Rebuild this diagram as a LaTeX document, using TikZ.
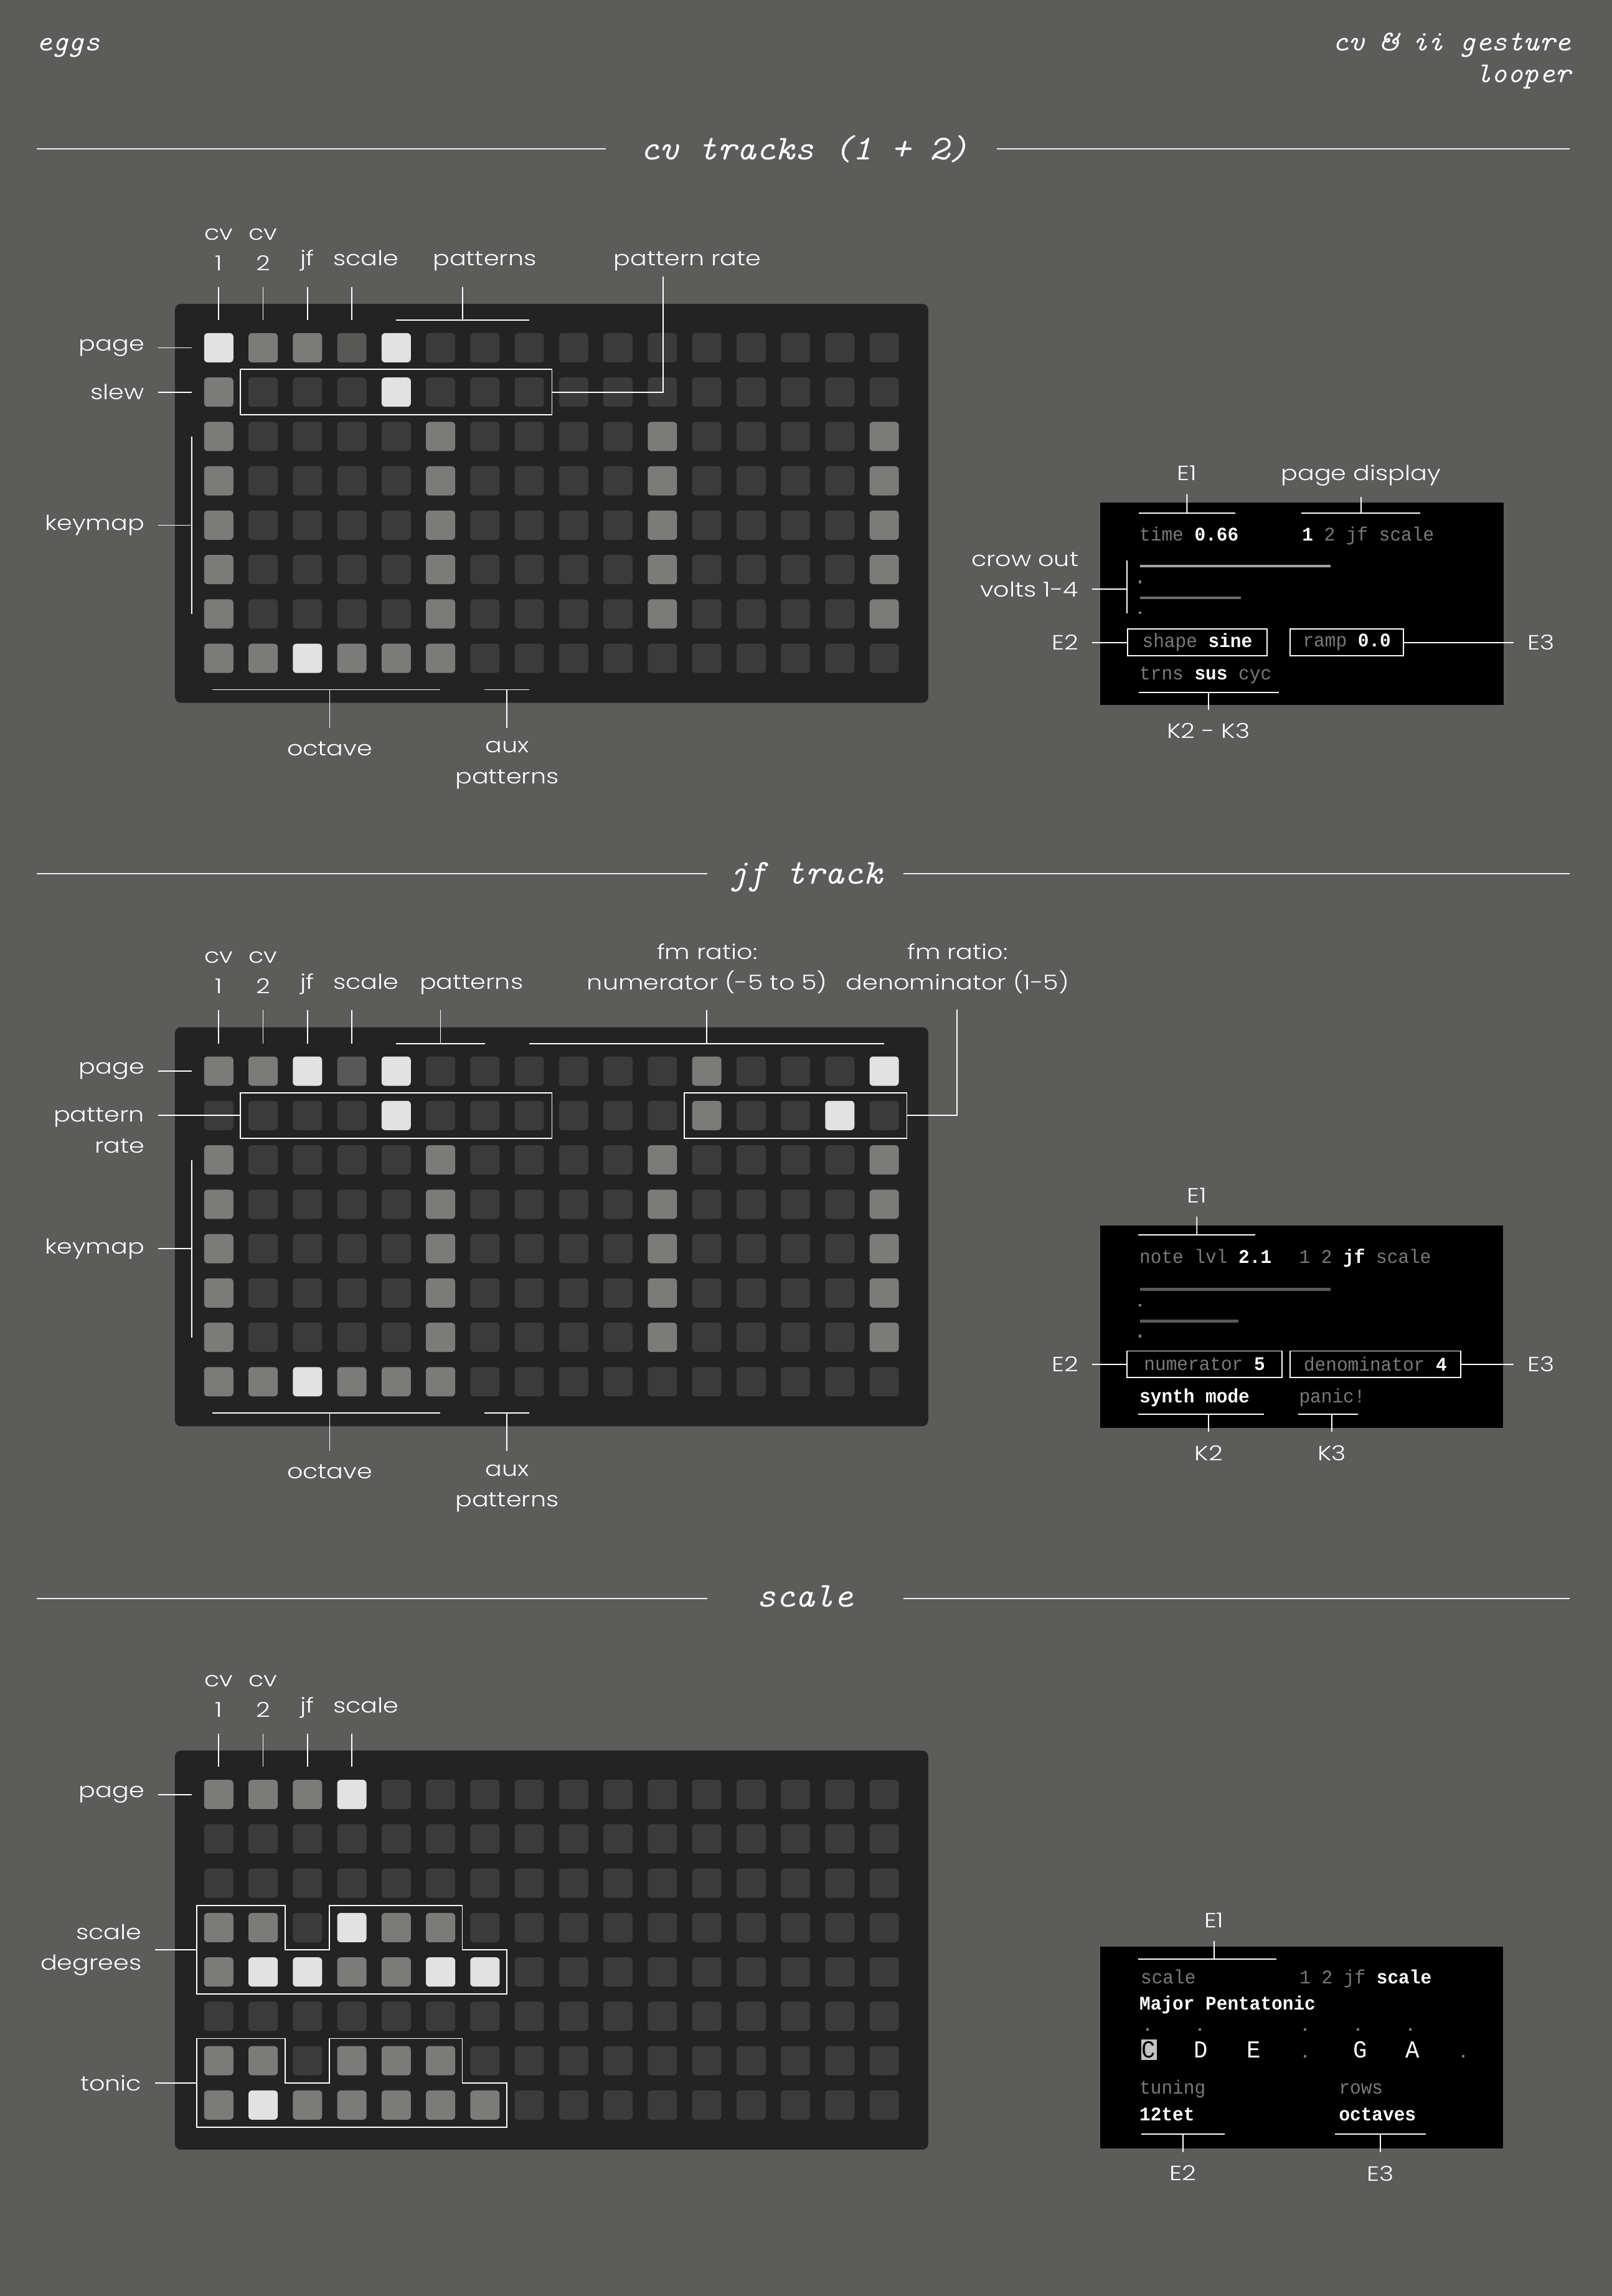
\documentclass[tikz,border=0pt]{standalone}
\usepackage{fontspec}
\IfFontExistsTF{Poppins Light}
  {\setmainfont{Poppins Light}[FakeStretch=1.2]}
  {\setmainfont{Poppins}[FakeStretch=1.2]}
\newfontfamily\headfont{lmmono10-italic.otf}[FakeStretch=1.05]
\newfontfamily\screenfont{Liberation Mono}[FakeStretch=0.95]
\usepackage{tikz}
\usetikzlibrary{positioning}
\usetikzlibrary{fit,calc}
\definecolor{bgcol}{RGB}{92,93,91}
\definecolor{panelcol}{RGB}{35,35,35}
\definecolor{keydark}{RGB}{58,59,58}
\definecolor{keydim}{RGB}{88,88,86}
\definecolor{keymid}{RGB}{123,123,121}
\definecolor{keylit}{RGB}{225,226,225}
\definecolor{scrgray}{RGB}{122,122,122}
\definecolor{barhi}{RGB}{165,165,165}
\definecolor{barmid}{RGB}{110,110,110}
\definecolor{barlo}{RGB}{90,90,90}
\definecolor{hlgray}{RGB}{195,195,195}

\begin{document}
\begin{tikzpicture}[x=0.02cm,y=-0.02cm,
  wire/.style={draw=white,line width=0.45pt},
  stem/.style={wire,shorten >=0.12cm},
  secrule/.style={draw=white!90!bgcol,line width=0.45pt},
  btn/.style={rectangle,rounded corners=0.05cm,minimum size=0.4cm,inner sep=0pt},
  btnd/.style={btn,fill=keydark},
  btns/.style={btn,fill=keydim},
  btnm/.style={btn,fill=keymid},
  btnb/.style={btn,fill=keylit},
  lab/.style={text=white,font=\fontsize{8}{11.9}\selectfont,inner xsep=0.18cm,inner ysep=0.06cm},
  head/.style={text=white,font=\headfont\fontsize{11.2}{12}\selectfont,inner sep=0pt},
  sectitle/.style={text=white,font=\headfont\fontsize{13.6}{15}\selectfont,inner sep=0pt,anchor=base},
  selbox/.style={draw=white,line width=0.45pt,inner sep=0.103cm},
  scrn/.style={fill=black,minimum width=5.51cm,minimum height=2.76cm,inner sep=0pt},
  scr/.style={text=scrgray,font=\screenfont\fontsize{7.5}{9}\selectfont,inner sep=0pt,anchor=base west},
  scrbox/.style={draw=white,line width=0.45pt,fill=black,minimum height=0.36cm,inner sep=0pt,
    anchor=west,text=scrgray,font=\screenfont\fontsize{7.5}{9}\selectfont},
  note/.style={text=white,font=\screenfont\fontsize{9.5}{10}\selectfont,inner sep=0pt,anchor=base}]

% page
\fill[bgcol] (0,0) rectangle (1101,1568);
\useasboundingbox (0,0) rectangle (1101,1568);

% header
\node[head,anchor=base west] (eggs) at (24.6,34.7) {eggs};
\node[head,anchor=base east] (tool) at (1073.5,34.7) {cv \& ii gesture};
\node[head,anchor=base east] (tool2) at (1073.5,56.3) {looper};

% section titles
\node[sectitle] (t-cv) at (549.5,109) {cv tracks (1 + 2)};
\node[sectitle] (t-jf) at (550,603.5) {jf track};
\node[sectitle] (t-sc) at (550,1097.5) {scale};
\foreach \s/\y/\a/\b in {cv/101.5/414/681,jf/596.5/483/617,sc/1091.5/483/617} {
  \coordinate (\s-r1) at (25,\y);
  \coordinate (\s-r2) at (\a,\y);
  \coordinate (\s-r3) at (\b,\y);
  \coordinate (\s-r4) at (1072,\y);
  \draw[secrule] (\s-r1) -- (\s-r2);
  \draw[secrule] (\s-r3) -- (\s-r4);
}

% grid panels
\fill[panelcol,rounded corners=0.08cm] (119.5,207.5) rectangle (634,480);
\fill[panelcol,rounded corners=0.08cm] (119.5,701.5) rectangle (634,974);
\fill[panelcol,rounded corners=0.08cm] (119.5,1195.5) rectangle (634,1468);

% cv tracks grid
\foreach \row [count=\ri from 0] in {
  {b,m,m,s,b,d,d,d,d,d,d,d,d,d,d,d},
  {m,d,d,d,b,d,d,d,d,d,d,d,d,d,d,d},
  {m,d,d,d,d,m,d,d,d,d,m,d,d,d,d,m},
  {m,d,d,d,d,m,d,d,d,d,m,d,d,d,d,m},
  {m,d,d,d,d,m,d,d,d,d,m,d,d,d,d,m},
  {m,d,d,d,d,m,d,d,d,d,m,d,d,d,d,m},
  {m,d,d,d,d,m,d,d,d,d,m,d,d,d,d,m},
  {m,m,b,m,m,m,d,d,d,d,d,d,d,d,d,d}} {
  \foreach \k [count=\ci from 0] in \row {
    \node[btn\k] (cv-\ri-\ci) at (149.4+30.3*\ci,237.5+30.3*\ri) {};
  }
}

% jf track grid
\foreach \row [count=\ri from 0] in {
  {m,m,b,s,b,d,d,d,d,d,d,m,d,d,d,b},
  {d,d,d,d,b,d,d,d,d,d,d,m,d,d,b,d},
  {m,d,d,d,d,m,d,d,d,d,m,d,d,d,d,m},
  {m,d,d,d,d,m,d,d,d,d,m,d,d,d,d,m},
  {m,d,d,d,d,m,d,d,d,d,m,d,d,d,d,m},
  {m,d,d,d,d,m,d,d,d,d,m,d,d,d,d,m},
  {m,d,d,d,d,m,d,d,d,d,m,d,d,d,d,m},
  {m,m,b,m,m,m,d,d,d,d,d,d,d,d,d,d}} {
  \foreach \k [count=\ci from 0] in \row {
    \node[btn\k] (jf-\ri-\ci) at (149.4+30.3*\ci,731.5+30.3*\ri) {};
  }
}

% scale grid
\foreach \row [count=\ri from 0] in {
  {m,m,m,b,d,d,d,d,d,d,d,d,d,d,d,d},
  {d,d,d,d,d,d,d,d,d,d,d,d,d,d,d,d},
  {d,d,d,d,d,d,d,d,d,d,d,d,d,d,d,d},
  {m,m,d,b,m,m,d,d,d,d,d,d,d,d,d,d},
  {m,b,b,m,m,b,b,d,d,d,d,d,d,d,d,d},
  {d,d,d,d,d,d,d,d,d,d,d,d,d,d,d,d},
  {m,m,d,m,m,m,d,d,d,d,d,d,d,d,d,d},
  {m,b,m,m,m,m,m,d,d,d,d,d,d,d,d,d}} {
  \foreach \k [count=\ci from 0] in \row {
    \node[btn\k] (sc-\ri-\ci) at (149.4+30.3*\ci,1225.5+30.3*\ri) {};
  }
}

% labels shared by the three grids
\foreach \g/\dy in {cv/0,jf/494,sc/988} {
  \node[lab,anchor=east] (\g-lpage) at (108,237.5+\dy) {page};
  \draw[wire] (\g-lpage) -- ([xshift=-0.16cm]\g-0-0.west);
  \node[lab,anchor=south,align=center] (\g-lcv1) at (149.4,188+\dy) {cv\\1};
  \node[lab,anchor=south,align=center] (\g-lcv2) at (179.7,188+\dy) {cv\\2};
  \node[lab,anchor=base] (\g-ljf) at (210,181.5+\dy) {jf};
  \node[lab,anchor=base] (\g-lscale) at (250,181.5+\dy) {scale};
  \coordinate (\g-tt) at (0,196+\dy);
  \foreach \col in {0,...,3}
    \draw[wire,shorten <=0.17cm] (\g-0-\col.north) -- (\g-0-\col.north |- \g-tt);
}

% keymap, octave and aux (cv + jf)
\foreach \g/\dy in {cv/0,jf/494} {
  \node[lab,anchor=east] (\g-lkey) at (108,358.7+\dy) {keymap};
  \coordinate (\g-kt) at ([xshift=-0.16cm]\g-2-0.west);
  \coordinate (\g-kb) at ([xshift=-0.16cm]\g-6-0.west);
  \draw[wire] (\g-kt) -- (\g-kb);
  \draw[wire] (\g-lkey) -- (\g-lkey -| \g-kt);
  \coordinate (\g-oa) at (145,471+\dy);
  \coordinate (\g-ob) at (300.7,471+\dy);
  \coordinate (\g-om) at (225.2,471+\dy);
  \draw[wire] (\g-oa) -- (\g-ob);
  \node[lab,anchor=north] (\g-loct) at (225.2,503+\dy) {octave};
  \draw[stem] (\g-om) -- (\g-loct);
  \coordinate (\g-aa) at (331,471+\dy);
  \coordinate (\g-ab) at (361.5,471+\dy);
  \coordinate (\g-am) at (346.3,471+\dy);
  \draw[wire] (\g-aa) -- (\g-ab);
  \node[lab,anchor=north,align=center] (\g-laux) at (346.3,503+\dy) {aux\\patterns};
  \draw[stem] (\g-am) -- (\g-laux);
}

% cv tracks: slew, patterns, pattern rate
\node[lab,anchor=east] (cv-lslew) at (108,267.8) {slew};
\draw[wire] (cv-lslew) -- ([xshift=-0.16cm]cv-1-0.west);
\node[lab,anchor=base] (cv-lpat) at (331,181.5) {patterns};
\draw[wire] ([yshift=0.17cm]cv-0-4.north) -- ([yshift=0.17cm]cv-0-7.north);
\coordinate (cv-pm) at ($(cv-0-4.north)!.5!(cv-0-7.north)$);
\draw[wire,shorten <=0.17cm] (cv-pm) -- (cv-pm |- cv-tt);
\node[selbox,fit=(cv-1-1)(cv-1-7)] (cv-rbox) {};
\node[lab,anchor=base] (cv-lrate) at (469.5,181.5) {pattern rate};
\coordinate (cv-rc) at (453,189);
\draw[wire] (cv-rbox.east) -| (cv-rc);

% jf track: pattern rate, patterns, fm ratio
\node[selbox,fit=(jf-1-1)(jf-1-7)] (jf-rbox) {};
\node[selbox,fit=(jf-1-11)(jf-1-15)] (jf-dbox) {};
\node[lab,anchor=east,align=right] (jf-lrate) at (108,772) {pattern\\rate};
\draw[wire] (jf-rbox.west) -- (jf-rbox.west -| jf-lrate.east);
\node[lab,anchor=base] (jf-lpat) at (322,675.5) {patterns};
\draw[wire] ([yshift=0.17cm]jf-0-4.north) -- ([yshift=0.17cm]jf-0-6.north);
\draw[wire,shorten <=0.17cm] (jf-0-5.north) -- (jf-0-5.north |- jf-tt);
\node[lab,anchor=south,align=center] (jf-lnum) at (483,682) {fm ratio:\\numerator (-5 to 5)};
\draw[wire] ([yshift=0.17cm]jf-0-7.north) -- ([yshift=0.17cm]jf-0-15.north);
\coordinate (jf-nm) at ($(jf-0-7.north)!.5!(jf-0-15.north)$);
\draw[wire,shorten <=0.17cm] (jf-nm) -- (jf-nm |- jf-tt);
\node[lab,anchor=south,align=center] (jf-lden) at (654,682) {fm ratio:\\denominator (1-5)};
\coordinate (jf-dc) at (653.8,689.5);
\draw[wire] (jf-dbox.east) -| (jf-dc);

% scale: degrees and tonic outlines
\draw[wire] (134.25,1301.25) -- (194.85,1301.25) -- (194.85,1331.55) -- (225.15,1331.55)
  -- (225.15,1301.25) -- (315.75,1301.25) -- (315.75,1331.55) -- (346.05,1331.55)
  -- (346.05,1361.85) -- (134.25,1361.85) -- cycle;
\draw[wire] (134.25,1392.15) -- (194.85,1392.15) -- (194.85,1422.45) -- (225.15,1422.45)
  -- (225.15,1392.15) -- (315.75,1392.15) -- (315.75,1422.45) -- (346.05,1422.45)
  -- (346.05,1452.75) -- (134.25,1452.75) -- cycle;
\node[lab,anchor=east,align=right] (sc-ldeg) at (106,1331.55) {scale\\degrees};
\coordinate (sc-dl) at (134.25,1331.55);
\draw[wire] (sc-ldeg) -- (sc-dl);
\node[lab,anchor=east] (sc-lton) at (106,1422.45) {tonic};
\coordinate (sc-tl) at (134.25,1422.45);
\draw[wire] (sc-lton) -- (sc-tl);

% ---- screen: cv tracks
\node[scrn] (cv-scr) at (889.25,412.25) {};
\node[lab,anchor=base] (cv-le1) at (810.7,328.1) {E1};
\coordinate (cv-e1a) at (777.7,350.3);
\coordinate (cv-e1b) at (843.8,350.3);
\draw[wire] (cv-e1a) -- (cv-e1b);
\draw[stem] ($(cv-e1a)!.5!(cv-e1b)$) -- (cv-le1);
\node[lab,anchor=base] (cv-lpd) at (929.5,328.1) {page display};
\coordinate (cv-pda) at (889,350.3);
\coordinate (cv-pdb) at (970,350.3);
\draw[wire] (cv-pda) -- (cv-pdb);
\draw[wire,shorten >=0.08cm] ($(cv-pda)!.5!(cv-pdb)$) -- (cv-lpd);
\node[scr] (cv-time) at (778,369.2) {time \textcolor{white}{\bfseries 0.66}};
\node[scr] (cv-pages) at (889,369.2) {\textcolor{white}{\bfseries 1} 2 jf scale};
\fill[barhi] (778.5,385.6) rectangle (909,387.6);
\fill[scrgray] (778,396.5) rectangle (779.6,398.3);
\fill[barmid] (778.5,407.2) rectangle (847.5,409.2);
\fill[scrgray] (778,417.5) rectangle (779.6,419.3);
\node[lab,anchor=east,align=right] (cv-lcrow) at (746,392.5) {crow out\\volts 1-4};
\coordinate (cv-ct) at (769.6,382.6);
\coordinate (cv-cb) at (769.6,418.7);
\coordinate (cv-cm) at (769.6,402.2);
\draw[wire] (cv-ct) -- (cv-cb);
\draw[wire] (cv-lcrow.east |- cv-cm) -- (cv-cm);
\node[scrbox,minimum width=1.912cm] (cv-e2) at (769.6,438.7) {shape \textcolor{white}{\bfseries sine}};
\node[scrbox,minimum width=1.546cm] (cv-e3) at (880.9,438.7) {ramp \textcolor{white}{\bfseries 0.0}};
\node[lab,anchor=east] (cv-le2) at (746,438.7) {E2};
\node[lab,anchor=west] (cv-le3) at (1034,438.7) {E3};
\draw[wire] (cv-le2) -- (cv-e2);
\draw[wire] (cv-e3) -- (cv-le3);
\node[scr] (cv-mode) at (778,464.2) {trns \textcolor{white}{\bfseries sus} cyc};
\coordinate (cv-ka) at (777.7,472.8);
\coordinate (cv-kb) at (873.3,472.8);
\coordinate (cv-km) at (825.4,472.8);
\draw[wire] (cv-ka) -- (cv-kb);
\node[lab,anchor=north] (cv-lk) at (825.4,490.7) {K2 - K3};
\draw[stem] (cv-km) -- (cv-lk);

% ---- screen: jf track
\node[scrn] (jf-scr) at (889,906) {};
\node[lab,anchor=base] (jf-le1) at (817.5,821.5) {E1};
\coordinate (jf-e1a) at (777.6,843.3);
\coordinate (jf-e1b) at (857.4,843.3);
\draw[wire] (jf-e1a) -- (jf-e1b);
\draw[stem] ($(jf-e1a)!.5!(jf-e1b)$) -- (jf-le1);
\node[scr] (jf-lvl) at (778,862.6) {note lvl \textcolor{white}{\bfseries 2.1}};
\node[scr] (jf-pages) at (887,862.6) {1 2 \textcolor{white}{\bfseries jf} scale};
\fill[barlo] (778.5,879.6) rectangle (908.6,881.6);
\fill[scrgray] (778,890.5) rectangle (779.6,892.3);
\fill[barlo] (778.5,901.2) rectangle (846,903.2);
\fill[scrgray] (778,911.5) rectangle (779.6,913.3);
\node[scrbox,minimum width=2.122cm] (jf-e2) at (769.3,931.6) {numerator \textcolor{white}{\bfseries 5}};
\node[scrbox,minimum width=2.328cm] (jf-e3) at (880.8,931.6) {denominator \textcolor{white}{\bfseries 4}};
\node[lab,anchor=east] (jf-le2) at (746,931.6) {E2};
\node[lab,anchor=west] (jf-le3) at (1034,931.6) {E3};
\draw[wire] (jf-le2) -- (jf-e2);
\draw[wire] (jf-e3) -- (jf-le3);
\node[scr] (jf-synth) at (778,957.8) {\textcolor{white}{\bfseries synth mode}};
\node[scr] (jf-panic) at (887,957.8) {panic!};
\coordinate (jf-k2a) at (777.6,965.8);
\coordinate (jf-k2b) at (863.2,965.8);
\coordinate (jf-k2m) at (825.5,965.8);
\draw[wire] (jf-k2a) -- (jf-k2b);
\node[lab,anchor=north] (jf-lk2) at (825.5,983.9) {K2};
\draw[stem] (jf-k2m) -- (jf-lk2);
\coordinate (jf-k3a) at (886.6,965.8);
\coordinate (jf-k3b) at (927.6,965.8);
\coordinate (jf-k3m) at (909.6,965.8);
\draw[wire] (jf-k3a) -- (jf-k3b);
\node[lab,anchor=north] (jf-lk3) at (909.6,983.9) {K3};
\draw[stem] (jf-k3m) -- (jf-lk3);

% ---- screen: scale
\node[scrn] (sc-scr) at (889,1398.4) {};
\node[lab,anchor=base] (sc-le1) at (829.2,1316.3) {E1};
\coordinate (sc-e1a) at (777.3,1337.9);
\coordinate (sc-e1b) at (871.9,1337.9);
\coordinate (sc-e1m) at (829.2,1337.9);
\draw[wire] (sc-e1a) -- (sc-e1b);
\draw[stem] (sc-e1m) -- (sc-le1);
\node[scr] (sc-sname) at (778.8,1354.6) {scale};
\node[scr] (sc-pages) at (887.3,1354.6) {1 2 jf \textcolor{white}{\bfseries scale}};
\node[scr,text=white,font=\screenfont\bfseries\fontsize{7.5}{9}\selectfont] (sc-major) at (778,1372.6) {Major Pentatonic};
\foreach \x in {783.7,819.6,891.5,927.5,963.4}
  \fill[scrgray] (\x-0.8,1385.2) rectangle (\x+0.8,1386.8);
\node[note,fill=hlgray,text=black,inner xsep=0.01cm,inner ysep=0.025cm] (sc-nC) at (784.7,1405.2) {C};
\foreach \x/\n in {820.3/D,856.4/E,928.9/G,964.9/A}
  \node[note] (sc-n\n) at (\x,1405.2) {\n};
\foreach \x in {891.5,999.4}
  \fill[scrgray] (\x-0.8,1403.4) rectangle (\x+0.8,1405.2);
\node[scr] (sc-tun) at (778,1430) {tuning};
\node[scr] (sc-rows) at (914.2,1430) {rows};
\node[scr] (sc-tet) at (778,1448.2) {\textcolor{white}{\bfseries 12tet}};
\node[scr] (sc-oct) at (914.2,1448.2) {\textcolor{white}{\bfseries octaves}};
\coordinate (sc-e2a) at (779.5,1457.5);
\coordinate (sc-e2b) at (836.6,1457.5);
\coordinate (sc-e2m) at (808,1457.5);
\draw[wire] (sc-e2a) -- (sc-e2b);
\node[lab,anchor=north] (sc-le2) at (808,1475.7) {E2};
\draw[stem] (sc-e2m) -- (sc-le2);
\coordinate (sc-e3a) at (911.6,1457.5);
\coordinate (sc-e3b) at (974,1457.5);
\coordinate (sc-e3m) at (942.7,1457.5);
\draw[wire] (sc-e3a) -- (sc-e3b);
\node[lab,anchor=north] (sc-le3) at (942.7,1475.7) {E3};
\draw[stem] (sc-e3m) -- (sc-le3);
\end{tikzpicture}
\end{document}
